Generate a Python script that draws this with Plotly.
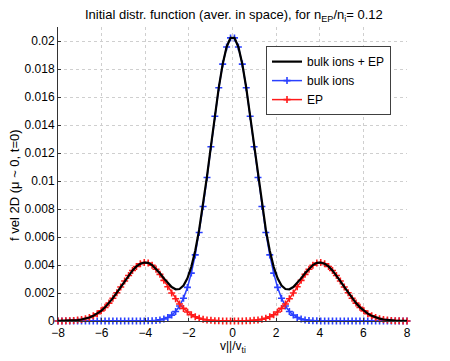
import plotly.graph_objects as go

# v_parallel / v_ti sample points (90 points, -8 .. 8)
v_par = [
    -8.000, -7.820, -7.640, -7.461, -7.281, -7.101, -6.921, -6.742, -6.562, -6.382,
    -6.202, -6.022, -5.843, -5.663, -5.483, -5.303, -5.124, -4.944, -4.764, -4.584,
    -4.404, -4.225, -4.045, -3.865, -3.685, -3.506, -3.326, -3.146, -2.966, -2.787,
    -2.607, -2.427, -2.247, -2.067, -1.888, -1.708, -1.528, -1.348, -1.169, -0.989,
    -0.809, -0.629, -0.449, -0.270, -0.090,
    0.090, 0.270, 0.449, 0.629, 0.809, 0.989, 1.169, 1.348, 1.528, 1.708,
    1.888, 2.067, 2.247, 2.427, 2.607, 2.787, 2.966, 3.146, 3.326, 3.506,
    3.685, 3.865, 4.045, 4.225, 4.404, 4.584, 4.764, 4.944, 5.124, 5.303,
    5.483, 5.663, 5.843, 6.022, 6.202, 6.382, 6.562, 6.742, 6.921, 7.101,
    7.281, 7.461, 7.640, 7.820, 8.000,
]

bulk_ions = [
    0, 0, 0, 0, 0, 0, 0, 0, 0, 0,
    0, 0, 0, 0, 0, 0, 0, 0, 0, 0,
    0, 0, 0, 0.00001, 0.00002, 0.00004, 0.00008, 0.00014, 0.00025, 0.00042,
    0.00068, 0.00107, 0.00163, 0.00240, 0.00342, 0.00472, 0.00632, 0.00818, 0.01025, 0.01245,
    0.01463, 0.01666, 0.01835, 0.01957, 0.02022,
    0.02022, 0.01957, 0.01835, 0.01666, 0.01463, 0.01245, 0.01025, 0.00818, 0.00632, 0.00472,
    0.00342, 0.00240, 0.00163, 0.00107, 0.00068, 0.00042, 0.00025, 0.00014, 0.00008, 0.00004,
    0.00002, 0.00001, 0, 0, 0, 0, 0, 0, 0, 0,
    0, 0, 0, 0, 0, 0, 0, 0, 0, 0,
    0, 0, 0, 0, 0,
]

ep = [
    0.000004, 0.000008, 0.000014, 0.000025, 0.000041, 0.000068, 0.000108, 0.000167, 0.000251, 0.000367,
    0.000523, 0.000724, 0.000975, 0.001277, 0.001629, 0.002019, 0.002432, 0.002853, 0.003255, 0.003612,
    0.003898, 0.004090, 0.004176, 0.004142, 0.003978, 0.003700, 0.003331, 0.002903, 0.002449, 0.002003,
    0.001584, 0.001213, 0.000899, 0.000645, 0.000449, 0.000302, 0.000197, 0.000124, 0.000076, 0.000045,
    0.000026, 0.000014, 0.000008, 0.000004, 0.000003,
    0.000003, 0.000004, 0.000008, 0.000014, 0.000026, 0.000045, 0.000076, 0.000124, 0.000197, 0.000302,
    0.000449, 0.000645, 0.000899, 0.001213, 0.001584, 0.002003, 0.002449, 0.002903, 0.003331, 0.003700,
    0.003978, 0.004142, 0.004176, 0.004090, 0.003898, 0.003612, 0.003255, 0.002853, 0.002432, 0.002019,
    0.001629, 0.001277, 0.000975, 0.000724, 0.000523, 0.000367, 0.000251, 0.000167, 0.000108, 0.000068,
    0.000041, 0.000025, 0.000014, 0.000008, 0.000004,
]

total = [
    0.000004, 0.000008, 0.000014, 0.000025, 0.000041, 0.000068, 0.000108, 0.000167, 0.000251, 0.000367,
    0.000523, 0.000724, 0.000975, 0.001277, 0.001629, 0.002019, 0.002432, 0.002853, 0.003255, 0.003612,
    0.003898, 0.004090, 0.004176, 0.004152, 0.003998, 0.003740, 0.003411, 0.003043, 0.002699, 0.002423,
    0.002264, 0.002283, 0.002529, 0.003045, 0.003869, 0.005022, 0.006517, 0.008304, 0.010326, 0.012495,
    0.014656, 0.016674, 0.018358, 0.019574, 0.020223,
    0.020223, 0.019574, 0.018358, 0.016674, 0.014656, 0.012495, 0.010326, 0.008304, 0.006517, 0.005022,
    0.003869, 0.003045, 0.002529, 0.002283, 0.002264, 0.002423, 0.002699, 0.003043, 0.003411, 0.003740,
    0.003998, 0.004152, 0.004176, 0.004090, 0.003898, 0.003612, 0.003255, 0.002853, 0.002432, 0.002019,
    0.001629, 0.001277, 0.000975, 0.000724, 0.000523, 0.000367, 0.000251, 0.000167, 0.000108, 0.000068,
    0.000041, 0.000025, 0.000014, 0.000008, 0.000004,
]

x_ticks = [-8, -6, -4, -2, 0, 2, 4, 6, 8]
y_ticks = [0, 0.002, 0.004, 0.006, 0.008, 0.01, 0.012, 0.014, 0.016, 0.018, 0.02]
y_ticktext = ["0", "0.002", "0.004", "0.006", "0.008", "0.01", "0.012", "0.014",
              "0.016", "0.018", "0.02"]

FONT = "Liberation Sans, Arial, Helvetica, sans-serif"
BLUE = "#2a40ff"
RED = "#ff1a1a"

fig = go.Figure()

# bulk ions and EP first, total on top (legend order kept with legendrank)
fig.add_trace(go.Scatter(
    x=v_par, y=bulk_ions, mode="lines+markers", name="bulk ions", legendrank=2,
    line=dict(color=BLUE, width=1.5),
    marker=dict(symbol="cross-thin", size=5, line=dict(color=BLUE, width=1.6)),
    cliponaxis=False,
))
fig.add_trace(go.Scatter(
    x=v_par, y=ep, mode="lines+markers", name="EP", legendrank=3,
    line=dict(color=RED, width=1.5),
    marker=dict(symbol="cross-thin", size=5, line=dict(color=RED, width=1.6)),
    cliponaxis=False,
))
fig.add_trace(go.Scatter(
    x=v_par, y=total, mode="lines", name="bulk ions + EP", legendrank=1,
    line=dict(color="black", width=2.2), cliponaxis=False,
))

axis_common = dict(
    showline=True, linecolor="#333333", linewidth=1,
    ticks="inside", ticklen=3, tickcolor="#333333",
    showgrid=True, gridcolor="#cfcfcf", griddash="dot", gridwidth=1,
    zeroline=False, mirror=False, automargin=False,
    tickfont=dict(family=FONT, size=12, color="black"),
)

# page has an 8px body margin, so the figure is 442x353 placed at (8, 8)
fig.update_layout(
    width=442, height=353,
    paper_bgcolor="white", plot_bgcolor="white",
    margin=dict(l=50, r=43, t=19, b=40),
    font=dict(family=FONT, size=12, color="black"),
    title=dict(
        text="Initial distr. function (aver. in space), for n<sub>EP</sub>/n<sub>i</sub>= 0.12",
        x=0.511, xanchor="center", y=1.0, yanchor="top", pad=dict(t=2),
        font=dict(family=FONT, size=13, color="black"),
    ),
    xaxis=dict(range=[-8, 8], tickvals=x_ticks, ticklabelstandoff=1, **axis_common),
    yaxis=dict(range=[0, 0.021], tickvals=y_ticks, ticktext=y_ticktext, **axis_common),
    annotations=[
        dict(text="v||/v<sub>ti</sub>", xref="paper", yref="paper",
             x=0.5, y=-0.087, xanchor="center", yanchor="middle", showarrow=False,
             font=dict(family=FONT, size=12, color="black")),
        dict(text="f vel 2D (μ ~ 0, t=0)", xref="paper", yref="paper",
             x=-0.123, y=0.463, xanchor="center", yanchor="middle", showarrow=False,
             textangle=-90, font=dict(family=FONT, size=13, color="black")),
    ],
    showlegend=True,
    legend=dict(
        x=0.596, y=0.935, xanchor="left", yanchor="top",
        bgcolor="white", bordercolor="#404040", borderwidth=1,
        font=dict(family=FONT, size=12, color="black"),
        tracegroupgap=0, itemwidth=30,
    ),
)

fig.write_html("out.html")
